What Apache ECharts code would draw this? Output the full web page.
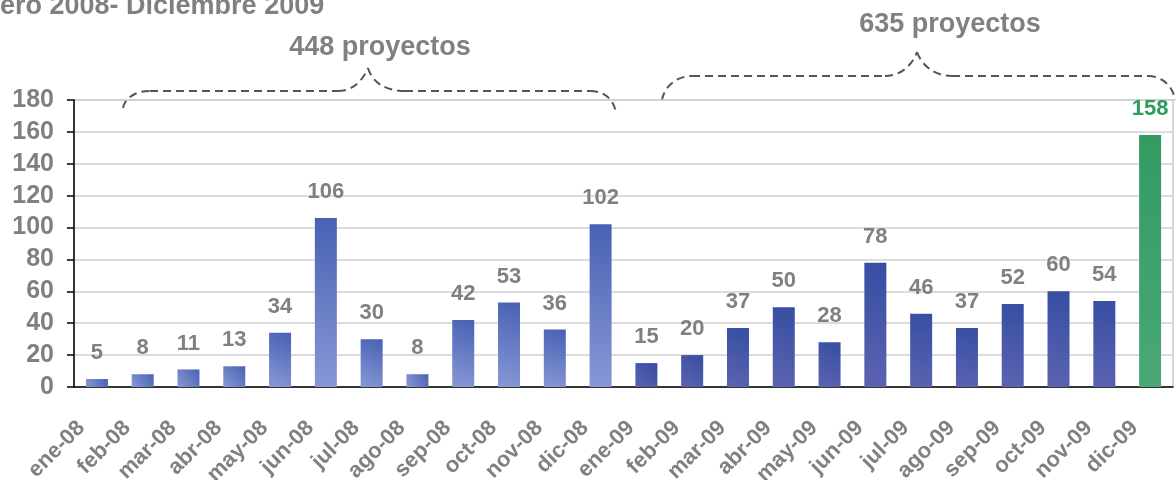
<!DOCTYPE html>
<html>
<head>
<meta charset="utf-8">
<script src="https://cdn.jsdelivr.net/npm/echarts@6/dist/echarts.min.js"></script>
<style>
  html, body { margin: 0; padding: 0; background: #fff; }
  #main { width: 1176px; height: 480px; }
</style>
</head>
<body>
<div id="main"></div>
<script>
var meses = ['ene-08','feb-08','mar-08','abr-08','may-08','jun-08','jul-08','ago-08','sep-08','oct-08','nov-08','dic-08',
             'ene-09','feb-09','mar-09','abr-09','may-09','jun-09','jul-09','ago-09','sep-09','oct-09','nov-09','dic-09'];
var proyectos2008 = [5, 8, 11, 13, 34, 106, 30, 8, 42, 53, 36, 102];
var proyectos2009 = [15, 20, 37, 50, 28, 78, 46, 37, 52, 60, 54, 158];
var totales = ['448 proyectos', '635 proyectos'];

var gris = '#808080';
var font = '"Liberation Sans", Arial, sans-serif';

function degradado(c0, c1) {
    return {
        type: 'linear', x: 0, y: 1, x2: 1, y2: 0,
        colorStops: [{ offset: 0, color: c0 }, { offset: 1, color: c1 }]
    };
}
var color2008 = degradado('#8898d6', '#4861b3');
var color2009 = degradado('#5c63b1', '#364ea2');
var colorUltimo = degradado('#4aa877', '#349a62');

var datos = [];
proyectos2008.forEach(function (v) {
    datos.push({ value: v, itemStyle: { color: color2008 } });
});
proyectos2009.forEach(function (v, i) {
    if (i == proyectos2009.length - 1) {
        datos.push({ value: v, itemStyle: { color: colorUltimo }, label: { color: '#2e9a5e' } });
    } else {
        datos.push({ value: v, itemStyle: { color: color2009 } });
    }
});

var llave = { stroke: '#555', lineWidth: 2, lineDash: [8, 5], fill: null };

// llave punteada: tramos curvos y rectos
function curva(x1, y1, cx1, cy1, cx2, cy2, x2, y2) {
    return { type: 'bezierCurve', silent: true,
        shape: { x1: x1, y1: y1, cpx1: cx1, cpy1: cy1, cpx2: cx2, cpy2: cy2, x2: x2, y2: y2 },
        style: llave };
}
function recta(x1, y1, x2, y2) {
    return { type: 'line', silent: true, shape: { x1: x1, y1: y1, x2: x2, y2: y2 }, style: llave };
}

var myChart = echarts.init(document.getElementById('main'));

var option = {
    animation: false,
    textStyle: { fontFamily: font },
    grid: {
        left: 74, right: 3, top: 100, bottom: 93,
        outerBoundsMode: 'none',
        containLabel: false,
        show: true, borderColor: '#c8c8c8', borderWidth: 1.5
    },
    xAxis: {
        type: 'category',
        data: meses,
        axisLine: { lineStyle: { color: '#000', width: 1.5 } },
        axisTick: { length: 7, lineStyle: { color: '#000', width: 1.5 } },
        axisLabel: {
            rotate: 45,
            interval: 0,
            margin: 22,
            padding: [0, 22, 0, 0],
            color: gris,
            fontSize: 22,
            fontWeight: 'bold',
            fontFamily: font
        }
    },
    yAxis: {
        type: 'value',
        min: 0,
        max: 180,
        interval: 20,
        axisLine: { show: true, lineStyle: { color: '#000', width: 1.5 } },
        axisTick: { show: true, length: 7, lineStyle: { color: '#000', width: 1.5 } },
        splitLine: { lineStyle: { color: '#d0d0d0', width: 1.5 } },
        axisLabel: {
            margin: 20,
            color: gris,
            fontSize: 25,
            fontWeight: 'bold',
            fontFamily: font
        }
    },
    series: [{
        type: 'bar',
        data: datos,
        barWidth: 22,
        label: {
            show: true,
            position: 'top',
            distance: 15,
            color: gris,
            fontSize: 22,
            fontWeight: 'bold',
            fontFamily: font
        }
    }],
    graphic: [
        {
            type: 'text', left: 0, top: -7,
            style: { text: 'ero 2008- Diciembre 2009', fill: gris, font: 'bold 27px ' + font }
        },
        {
            type: 'text', x: 380, y: 48,
            style: { text: totales[0], fill: gris, font: 'bold 27px ' + font, align: 'center', verticalAlign: 'middle' }
        },
        {
            type: 'text', x: 950, y: 25,
            style: { text: totales[1], fill: gris, font: 'bold 27px ' + font, align: 'center', verticalAlign: 'middle' }
        },
        curva(123, 108, 125, 98, 135, 91, 150, 91),
        recta(150, 91, 338, 91),
        curva(338, 91, 352, 91, 362, 82, 368, 68),
        curva(368, 68, 372, 82, 385, 91, 405, 91),
        recta(405, 91, 590, 91),
        curva(590, 91, 605, 91, 614, 100, 616, 113),
        curva(662, 100, 664, 88, 675, 76, 692, 76),
        recta(692, 76, 885, 76),
        curva(885, 76, 900, 76, 912, 66, 917, 52),
        curva(917, 52, 922, 66, 935, 76, 952, 76),
        recta(952, 76, 1148, 76),
        curva(1148, 76, 1162, 76, 1173, 86, 1175, 100)
    ]
};

myChart.setOption(option);
</script>
</body>
</html>
